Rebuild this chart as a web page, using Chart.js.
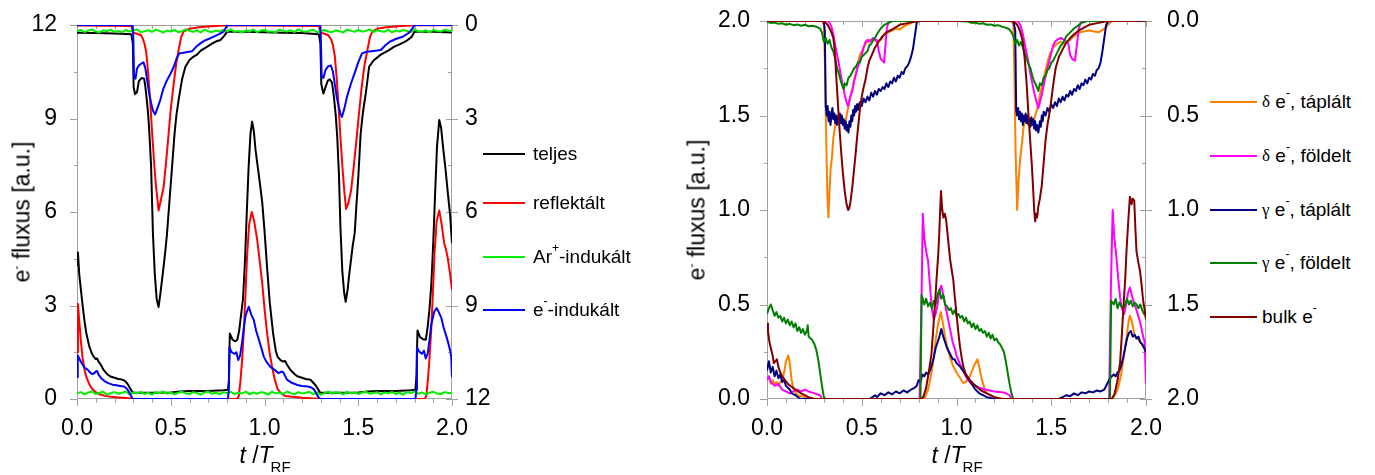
<!DOCTYPE html>
<html>
<head>
<meta charset="utf-8">
<script src="https://cdn.jsdelivr.net/npm/chart.js@4.4.1/dist/chart.umd.min.js"></script>
<style>
  body { margin: 0; background: #fff; width: 1375px; height: 475px; position: relative; overflow: hidden;
         font-family: "Liberation Sans", Arial, sans-serif; color: #000; }
  canvas { position: absolute; top: 0; }
  .ytitle { position: absolute; font-size: 23px; white-space: nowrap; transform: translate(-50%, -50%) rotate(-90deg); }
  .xtitle { position: absolute; font-size: 23px; line-height: 23px; white-space: nowrap; transform: translateX(-50%); }
  .xtitle .sub { font-size: 15px; font-style: normal; position: relative; top: 9px; margin-left: -2px; }
  sup { font-size: 12px; vertical-align: 0; position: relative; top: -9px; }
  .item { position: absolute; height: 22px; display: flex; align-items: center; font-size: 19px; white-space: nowrap; }
  .ln { display: inline-block; height: 2px; }
  .gr { font-family: "Liberation Serif", "DejaVu Serif", serif; font-size: 17px; }
</style>
</head>
<body>
<canvas id="c1" width="490" height="475" style="left:0"></canvas>
<canvas id="c2" width="520" height="475" style="left:690px"></canvas>

<div class="ytitle" style="left:22px;top:212px">e<sup>-</sup> fluxus [a.u.]</div>
<div class="ytitle" style="left:697px;top:210px">e<sup>-</sup> fluxus [a.u.]</div>
<div class="xtitle" style="left:265px;top:444px"><i>t</i> /<i>T</i><span class="sub">RF</span></div>
<div class="xtitle" style="left:957px;top:444px"><i>t</i> /<i>T</i><span class="sub">RF</span></div>

<div class="item" style="left:483px;top:143px"><span class="ln" style="width:42px;background:#000;margin-right:8px"></span>teljes</div>
<div class="item" style="left:483px;top:192px"><span class="ln" style="width:42px;background:#ff0000;margin-right:8px"></span>reflektált</div>
<div class="item" style="left:483px;top:246px"><span class="ln" style="width:42px;background:#00ee00;margin-right:8px"></span>Ar<sup>+</sup>-indukált</div>
<div class="item" style="left:483px;top:299px"><span class="ln" style="width:42px;background:#0000ff;margin-right:8px"></span>e<sup>-</sup>-indukált</div>

<div class="item" style="left:1210px;top:91px"><span class="ln" style="width:47px;background:#ff8000;margin-right:5px"></span><span class="gr">δ</span>&nbsp;e<sup>-</sup>, táplált</div>
<div class="item" style="left:1210px;top:145px"><span class="ln" style="width:47px;background:#ff00ff;margin-right:5px"></span><span class="gr">δ</span>&nbsp;e<sup>-</sup>, földelt</div>
<div class="item" style="left:1210px;top:199px"><span class="ln" style="width:47px;background:#000080;margin-right:5px"></span><span class="gr">γ</span>&nbsp;e<sup>-</sup>, táplált</div>
<div class="item" style="left:1210px;top:252px"><span class="ln" style="width:47px;background:#008000;margin-right:5px"></span><span class="gr">γ</span>&nbsp;e<sup>-</sup>, földelt</div>
<div class="item" style="left:1210px;top:306px"><span class="ln" style="width:47px;background:#800000;margin-right:5px"></span>bulk e<sup>-</sup></div>

<script>
// ---- left panel: [t/T_RF, flux] ----
// bottom curves (left axis)
const teljesAlso = [[0,4.3],[0.005,4.7],[0.012,4.0],[0.02,3.55],[0.03,3.0],[0.04,2.5],[0.05,2.1],[0.065,1.7],[0.08,1.45],[0.09,1.35],[0.1,1.28],[0.107,1.3],[0.115,1.2],[0.125,1.12],[0.14,0.95],[0.16,0.8],[0.178,0.72],[0.2,0.68],[0.22,0.64],[0.235,0.63],[0.25,0.6],[0.26,0.56],[0.27,0.48],[0.28,0.38],[0.29,0.27],[0.3,0.2],[0.4,0.2],[0.5,0.21],[0.55,0.24],[0.6,0.26],[0.7,0.26],[0.78,0.28],[0.805,0.3],[0.81,0.6],[0.815,2.1],[0.83,1.9],[0.845,1.85],[0.855,1.9],[0.865,2.2],[0.875,2.7],[0.885,3.2],[0.895,4.3],[0.905,5.9],[0.915,7.4],[0.925,8.5],[0.934,8.9],[0.943,8.6],[0.952,8.0],[0.965,7.4],[0.978,6.8],[0.988,6.3],[1.0,5.4],[1.014,4.2],[1.028,3.1],[1.046,2.1],[1.06,1.55],[1.07,1.35],[1.085,1.25],[1.1,1.2],[1.11,1.22],[1.12,1.1],[1.14,0.92],[1.16,0.8],[1.175,0.73],[1.2,0.68],[1.22,0.64],[1.245,0.62],[1.26,0.52],[1.275,0.42],[1.285,0.32],[1.295,0.22],[1.3,0.2],[1.4,0.2],[1.5,0.21],[1.55,0.24],[1.6,0.26],[1.7,0.26],[1.78,0.28],[1.805,0.3],[1.81,0.7],[1.816,2.2],[1.83,1.98],[1.845,1.92],[1.86,1.9],[1.87,2.3],[1.88,2.9],[1.89,3.7],[1.9,5.0],[1.91,6.6],[1.92,8.1],[1.932,8.95],[1.942,8.7],[1.952,8.1],[1.965,7.4],[1.978,6.6],[1.99,5.9],[2.0,5.0]];
const reflAlso = [[0,1.5],[0.005,3.05],[0.012,2.5],[0.02,1.9],[0.03,1.3],[0.04,0.95],[0.05,0.7],[0.065,0.48],[0.08,0.33],[0.1,0.22],[0.12,0.15],[0.15,0.1],[0.18,0.07],[0.22,0.05],[0.26,0.03],[0.3,0.01],[0.35,0],[0.855,0],[0.863,0.1],[0.872,0.6],[0.88,1.2],[0.889,2.1],[0.898,3.3],[0.907,4.6],[0.918,5.6],[0.932,6.0],[0.945,5.7],[0.96,5.15],[0.975,4.4],[0.988,3.7],[1.0,2.9],[1.014,2.1],[1.027,1.5],[1.04,1.04],[1.055,0.62],[1.07,0.32],[1.09,0.17],[1.11,0.1],[1.15,0.07],[1.2,0.04],[1.26,0.02],[1.3,0],[1.855,0],[1.863,0.1],[1.872,0.65],[1.88,1.3],[1.889,2.2],[1.898,3.4],[1.907,4.7],[1.918,5.7],[1.932,6.05],[1.945,5.6],[1.958,5.0],[1.968,4.8],[1.978,4.5],[1.99,4.0],[2.0,3.5]];
const eIndAlso = [[0,0.7],[0.004,1.4],[0.012,1.3],[0.02,1.2],[0.03,1.1],[0.04,1.0],[0.05,0.97],[0.06,0.92],[0.07,0.85],[0.08,0.8],[0.09,0.82],[0.1,0.88],[0.107,0.9],[0.115,0.78],[0.13,0.66],[0.15,0.56],[0.17,0.5],[0.19,0.46],[0.21,0.44],[0.23,0.42],[0.25,0.4],[0.26,0.36],[0.27,0.3],[0.28,0.2],[0.29,0.08],[0.295,0.01],[0.3,0],[0.805,0],[0.81,0.3],[0.813,1.65],[0.825,1.5],[0.84,1.45],[0.85,1.5],[0.86,1.25],[0.87,1.4],[0.88,1.8],[0.89,2.3],[0.9,2.7],[0.916,2.96],[0.93,2.7],[0.943,2.53],[0.955,2.2],[0.97,1.9],[0.985,1.6],[0.996,1.36],[1.01,1.2],[1.03,1.04],[1.05,0.95],[1.075,0.83],[1.09,0.88],[1.1,0.86],[1.12,0.62],[1.145,0.52],[1.175,0.45],[1.2,0.42],[1.23,0.4],[1.25,0.37],[1.265,0.3],[1.278,0.16],[1.29,0.03],[1.3,0],[1.805,0],[1.81,0.3],[1.813,1.65],[1.825,1.52],[1.84,1.45],[1.85,1.55],[1.86,1.3],[1.87,1.45],[1.88,1.9],[1.89,2.4],[1.905,2.8],[1.918,2.92],[1.93,2.78],[1.943,2.6],[1.955,2.3],[1.968,2.05],[1.98,1.8],[1.99,1.55],[1.996,1.35],[2.0,0.7]];
// Ar+ induced flux, sampled every 0.02 T_RF
const tAr = Array.from({length: 101}, (_, i) => i * 0.02);
const arAlso = [0.18,0.22,0.15,0.21,0.24,0.16,0.2,0.23,0.14,0.19,0.22,0.17,0.2,0.24,0.15,0.21,0.18,0.23,0.16,0.2,0.14,0.22,0.19,0.24,0.17,0.21,0.15,0.2,0.23,0.18,0.16,0.22,0.19,0.14,0.21,0.24,0.17,0.2,0.15,0.22,0.19,0.23,0.16,0.2,0.18,0.24,0.15,0.21,0.17,0.22,0.2,0.14,0.23,0.18,0.21,0.16,0.24,0.19,0.15,0.22,0.18,0.2,0.23,0.16,0.21,0.14,0.19,0.24,0.17,0.22,0.2,0.15,0.23,0.18,0.21,0.16,0.2,0.24,0.17,0.19,0.22,0.15,0.21,0.18,0.23,0.16,0.2,0.14,0.22,0.19,0.24,0.17,0.21,0.15,0.2,0.23,0.18,0.16,0.22,0.19,0.2];
// top curves (right axis, reversed)
const teljesFelso = [[0,0.25],[0.1,0.26],[0.2,0.27],[0.29,0.3],[0.298,0.6],[0.302,2.0],[0.31,2.22],[0.32,2.15],[0.33,1.8],[0.345,1.7],[0.358,1.72],[0.365,2.0],[0.373,2.45],[0.38,2.9],[0.386,3.47],[0.395,4.5],[0.405,6.7],[0.415,8.0],[0.425,8.8],[0.435,9.05],[0.445,8.6],[0.455,8.1],[0.464,7.64],[0.472,7.2],[0.48,6.7],[0.49,5.9],[0.5,5.1],[0.507,4.55],[0.52,3.5],[0.53,2.9],[0.542,2.4],[0.56,1.75],[0.578,1.34],[0.6,1.12],[0.62,1.02],[0.64,0.95],[0.66,0.82],[0.693,0.7],[0.72,0.6],[0.745,0.52],[0.765,0.48],[0.785,0.35],[0.8,0.22],[0.9,0.22],[1.0,0.23],[1.1,0.25],[1.2,0.26],[1.29,0.3],[1.298,0.6],[1.303,1.9],[1.314,2.2],[1.325,2.0],[1.338,1.78],[1.348,1.74],[1.36,1.85],[1.37,2.3],[1.38,2.9],[1.388,3.6],[1.397,4.8],[1.405,6.5],[1.415,7.9],[1.425,8.6],[1.433,8.88],[1.443,8.5],[1.452,8.0],[1.46,7.6],[1.47,7.1],[1.481,6.68],[1.49,5.8],[1.5,4.9],[1.513,3.47],[1.525,2.8],[1.54,2.2],[1.558,1.34],[1.58,1.15],[1.62,0.95],[1.66,0.82],[1.69,0.7],[1.72,0.62],[1.76,0.5],[1.785,0.38],[1.8,0.22],[1.9,0.22],[2.0,0.24]];
const reflFelso = [[0,0.02],[0.29,0.03],[0.3,0.25],[0.32,0.28],[0.34,0.32],[0.35,0.42],[0.36,0.6],[0.37,0.9],[0.38,1.6],[0.39,2.4],[0.4,3.4],[0.41,4.3],[0.42,5.1],[0.435,5.95],[0.448,5.6],[0.462,5.2],[0.475,4.4],[0.489,3.47],[0.5,2.7],[0.516,1.87],[0.53,1.2],[0.542,0.8],[0.555,0.4],[0.568,0.21],[0.6,0.12],[0.65,0.07],[0.73,0.03],[0.8,0.01],[1.29,0.03],[1.3,0.25],[1.32,0.28],[1.34,0.33],[1.355,0.45],[1.365,0.65],[1.375,1.0],[1.385,1.7],[1.395,2.6],[1.405,3.6],[1.415,4.5],[1.425,5.3],[1.435,5.9],[1.448,5.7],[1.462,5.3],[1.475,4.6],[1.49,3.7],[1.503,2.9],[1.518,2.0],[1.533,1.3],[1.549,0.8],[1.562,0.4],[1.575,0.21],[1.6,0.12],[1.65,0.07],[1.73,0.03],[1.8,0.01],[2.0,0.01]];
const eIndFelso = [[0,0],[0.295,0],[0.3,0.3],[0.304,1.66],[0.312,1.72],[0.32,1.4],[0.33,1.3],[0.34,1.25],[0.355,1.2],[0.365,1.4],[0.375,1.8],[0.385,2.2],[0.395,2.5],[0.405,2.75],[0.417,2.87],[0.43,2.65],[0.444,2.41],[0.46,2.05],[0.48,1.77],[0.5,1.55],[0.516,1.34],[0.53,1.1],[0.545,0.91],[0.56,0.9],[0.575,0.88],[0.595,0.86],[0.614,0.84],[0.635,0.7],[0.658,0.59],[0.68,0.5],[0.705,0.44],[0.73,0.37],[0.755,0.3],[0.783,0.21],[0.795,0.08],[0.8,0],[1.295,0],[1.3,0.3],[1.305,1.66],[1.314,1.7],[1.325,1.45],[1.34,1.32],[1.354,1.3],[1.365,1.5],[1.375,1.9],[1.385,2.3],[1.395,2.6],[1.405,2.85],[1.413,2.95],[1.425,2.7],[1.44,2.3],[1.46,1.9],[1.48,1.55],[1.5,1.2],[1.52,0.91],[1.545,0.86],[1.57,0.84],[1.6,0.82],[1.62,0.8],[1.645,0.65],[1.67,0.53],[1.7,0.45],[1.74,0.37],[1.77,0.25],[1.79,0.1],[1.8,0],[2.0,0]];
const arFelso = [0.2,0.16,0.23,0.18,0.14,0.21,0.24,0.17,0.2,0.15,0.22,0.19,0.24,0.16,0.21,0.18,0.14,0.23,0.2,0.17,0.22,0.15,0.19,0.24,0.18,0.21,0.16,0.23,0.2,0.14,0.19,0.22,0.17,0.24,0.15,0.2,0.23,0.18,0.21,0.16,0.2,0.14,0.22,0.19,0.24,0.17,0.21,0.15,0.23,0.18,0.16,0.22,0.2,0.24,0.15,0.19,0.21,0.17,0.23,0.14,0.2,0.22,0.18,0.15,0.24,0.19,0.16,0.21,0.23,0.17,0.2,0.24,0.15,0.18,0.22,0.16,0.21,0.19,0.14,0.23,0.17,0.2,0.22,0.15,0.24,0.18,0.21,0.16,0.19,0.23,0.14,0.2,0.22,0.17,0.24,0.16,0.19,0.21,0.15,0.18,0.2];

// ---- right panel ----
const dTapAlso = [[0,0.1],[0.01,0.12],[0.02,0.08],[0.03,0.1],[0.04,0.08],[0.05,0.09],[0.06,0.07],[0.07,0.09],[0.08,0.1],[0.09,0.14],[0.1,0.2],[0.112,0.23],[0.12,0.19],[0.13,0.1],[0.14,0.05],[0.16,0.02],[0.2,0.01],[0.25,0],[0.82,0],[0.834,0.01],[0.85,0.05],[0.86,0.1],[0.87,0.15],[0.88,0.22],[0.89,0.31],[0.9,0.38],[0.91,0.43],[0.917,0.46],[0.925,0.42],[0.935,0.36],[0.94,0.33],[0.95,0.28],[0.966,0.22],[0.98,0.18],[1.0,0.14],[1.02,0.11],[1.036,0.085],[1.05,0.09],[1.07,0.12],[1.09,0.17],[1.11,0.21],[1.12,0.17],[1.134,0.1],[1.15,0.05],[1.16,0.03],[1.2,0.01],[1.25,0],[1.82,0],[1.83,0.01],[1.85,0.05],[1.86,0.09],[1.872,0.15],[1.885,0.24],[1.898,0.33],[1.908,0.41],[1.915,0.44],[1.925,0.41],[1.942,0.33],[1.955,0.32],[1.97,0.3],[1.985,0.28],[2.0,0.26]];
const dFolAlso = [[0,0.1],[0.01,0.12],[0.02,0.09],[0.03,0.08],[0.04,0.07],[0.06,0.08],[0.08,0.05],[0.1,0.04],[0.12,0.03],[0.14,0.04],[0.16,0.05],[0.18,0.04],[0.2,0.05],[0.22,0.04],[0.25,0.03],[0.28,0.02],[0.29,0],[0.805,0],[0.815,0.5],[0.822,0.98],[0.83,0.85],[0.84,0.78],[0.85,0.73],[0.86,0.6],[0.87,0.48],[0.88,0.42],[0.89,0.45],[0.9,0.5],[0.91,0.57],[0.92,0.6],[0.93,0.55],[0.94,0.5],[0.95,0.45],[0.96,0.4],[0.97,0.35],[0.98,0.3],[0.99,0.27],[1.0,0.23],[1.02,0.18],[1.04,0.14],[1.06,0.1],[1.08,0.08],[1.1,0.07],[1.12,0.06],[1.15,0.05],[1.2,0.04],[1.25,0.035],[1.28,0.02],[1.29,0],[1.805,0],[1.815,0.6],[1.824,1.0],[1.833,0.85],[1.842,0.77],[1.854,0.63],[1.863,0.54],[1.872,0.48],[1.885,0.45],[1.895,0.5],[1.905,0.56],[1.915,0.59],[1.93,0.53],[1.95,0.47],[1.965,0.42],[1.975,0.38],[1.985,0.33],[1.993,0.3],[2.0,0.08]];
const gTapAlso = [[0,0.15],[0.01,0.2],[0.02,0.14],[0.03,0.17],[0.04,0.12],[0.05,0.15],[0.06,0.11],[0.07,0.13],[0.08,0.09],[0.09,0.1],[0.1,0.07],[0.11,0.06],[0.12,0.05],[0.13,0.03],[0.15,0.02],[0.17,0.005],[0.18,0],[0.54,0],[0.55,0.005],[0.57,0.02],[0.58,0.01],[0.6,0.03],[0.62,0.02],[0.64,0.035],[0.66,0.025],[0.68,0.04],[0.7,0.03],[0.72,0.045],[0.74,0.035],[0.76,0.05],[0.78,0.06],[0.79,0.07],[0.8,0.1],[0.81,0.09],[0.82,0.13],[0.83,0.12],[0.84,0.14],[0.85,0.13],[0.86,0.15],[0.87,0.18],[0.88,0.22],[0.89,0.27],[0.9,0.3],[0.91,0.33],[0.92,0.37],[0.93,0.33],[0.94,0.3],[0.95,0.27],[0.96,0.25],[0.97,0.23],[0.98,0.21],[0.99,0.21],[1.0,0.19],[1.02,0.17],[1.04,0.14],[1.06,0.11],[1.08,0.08],[1.1,0.05],[1.12,0.03],[1.14,0.02],[1.16,0.01],[1.2,0],[1.54,0],[1.56,0.01],[1.58,0.02],[1.6,0.015],[1.62,0.03],[1.64,0.02],[1.66,0.035],[1.68,0.03],[1.7,0.04],[1.72,0.035],[1.74,0.045],[1.76,0.04],[1.78,0.05],[1.79,0.07],[1.8,0.09],[1.81,0.11],[1.82,0.12],[1.83,0.13],[1.84,0.12],[1.85,0.14],[1.86,0.15],[1.87,0.18],[1.88,0.22],[1.89,0.27],[1.9,0.32],[1.91,0.35],[1.92,0.36],[1.93,0.33],[1.94,0.34],[1.95,0.32],[1.96,0.33],[1.97,0.3],[1.98,0.29],[1.99,0.27],[2.0,0.25]];
const gFolAlso = [[0,0.45],[0.01,0.48],[0.02,0.5],[0.03,0.47],[0.04,0.44],[0.05,0.46],[0.06,0.43],[0.07,0.44],[0.08,0.41],[0.09,0.43],[0.1,0.4],[0.11,0.42],[0.12,0.39],[0.13,0.41],[0.14,0.38],[0.15,0.4],[0.16,0.36],[0.17,0.38],[0.18,0.35],[0.19,0.37],[0.2,0.34],[0.21,0.36],[0.215,0.39],[0.22,0.33],[0.23,0.32],[0.24,0.31],[0.25,0.29],[0.26,0.26],[0.27,0.21],[0.28,0.14],[0.29,0.07],[0.3,0.01],[0.31,0],[0.81,0],[0.816,0.55],[0.83,0.5],[0.84,0.53],[0.85,0.49],[0.86,0.51],[0.87,0.48],[0.88,0.52],[0.89,0.5],[0.9,0.55],[0.91,0.58],[0.92,0.53],[0.93,0.55],[0.94,0.5],[0.95,0.49],[0.96,0.47],[0.97,0.48],[0.98,0.45],[0.99,0.47],[1.0,0.44],[1.01,0.45],[1.02,0.43],[1.03,0.44],[1.04,0.41],[1.05,0.43],[1.06,0.4],[1.07,0.41],[1.08,0.38],[1.09,0.4],[1.1,0.37],[1.11,0.39],[1.12,0.36],[1.13,0.37],[1.14,0.35],[1.15,0.36],[1.16,0.33],[1.17,0.35],[1.18,0.32],[1.19,0.34],[1.2,0.31],[1.21,0.32],[1.22,0.3],[1.23,0.29],[1.24,0.27],[1.25,0.25],[1.26,0.2],[1.27,0.14],[1.28,0.08],[1.29,0.03],[1.3,0],[1.81,0],[1.816,0.52],[1.83,0.5],[1.84,0.53],[1.85,0.48],[1.86,0.51],[1.87,0.49],[1.88,0.48],[1.89,0.5],[1.9,0.53],[1.91,0.5],[1.92,0.52],[1.93,0.49],[1.94,0.51],[1.95,0.5],[1.96,0.48],[1.97,0.5],[1.98,0.47],[1.99,0.45],[2.0,0.44]];
const bulkAlso = [[0,0.4],[0.005,0.36],[0.013,0.3],[0.02,0.27],[0.03,0.23],[0.036,0.19],[0.045,0.2],[0.052,0.21],[0.06,0.17],[0.07,0.14],[0.08,0.12],[0.095,0.1],[0.11,0.08],[0.13,0.065],[0.15,0.05],[0.18,0.03],[0.22,0.01],[0.25,0],[0.81,0],[0.825,0.01],[0.84,0.06],[0.855,0.15],[0.868,0.24],[0.878,0.38],[0.887,0.51],[0.895,0.64],[0.904,0.77],[0.91,0.9],[0.918,1.1],[0.925,1.0],[0.931,0.96],[0.938,0.98],[0.945,0.95],[0.955,0.85],[0.966,0.74],[0.975,0.68],[0.983,0.63],[0.99,0.55],[1.0,0.45],[1.01,0.35],[1.018,0.28],[1.027,0.22],[1.036,0.17],[1.05,0.13],[1.071,0.1],[1.09,0.08],[1.107,0.065],[1.13,0.045],[1.16,0.03],[1.2,0.01],[1.24,0],[1.82,0],[1.835,0.03],[1.85,0.1],[1.863,0.19],[1.872,0.33],[1.88,0.47],[1.89,0.63],[1.898,0.8],[1.907,0.95],[1.915,1.07],[1.924,1.03],[1.93,1.06],[1.938,1.05],[1.944,0.9],[1.95,0.78],[1.96,0.72],[1.968,0.68],[1.977,0.6],[1.985,0.52],[1.993,0.47],[2.0,0.42]];

const dTapFelso = [[0,0],[0.29,0],[0.3,0.02],[0.305,0.2],[0.312,0.6],[0.318,0.9],[0.324,1.04],[0.33,0.9],[0.336,0.78],[0.343,0.72],[0.35,0.62],[0.36,0.55],[0.37,0.5],[0.38,0.53],[0.39,0.5],[0.4,0.52],[0.41,0.55],[0.42,0.5],[0.43,0.45],[0.44,0.4],[0.45,0.36],[0.46,0.31],[0.47,0.27],[0.48,0.22],[0.49,0.18],[0.5,0.16],[0.51,0.14],[0.52,0.12],[0.54,0.1],[0.56,0.1],[0.58,0.11],[0.6,0.1],[0.62,0.07],[0.64,0.06],[0.66,0.05],[0.68,0.04],[0.7,0.045],[0.72,0.03],[0.74,0.02],[0.76,0.01],[0.78,0],[1.29,0],[1.3,0.02],[1.305,0.25],[1.312,0.7],[1.32,1.0],[1.327,0.85],[1.336,0.73],[1.345,0.65],[1.354,0.56],[1.365,0.52],[1.375,0.5],[1.385,0.53],[1.395,0.51],[1.405,0.54],[1.415,0.5],[1.425,0.47],[1.435,0.42],[1.445,0.37],[1.455,0.32],[1.465,0.28],[1.475,0.24],[1.485,0.2],[1.495,0.17],[1.51,0.14],[1.53,0.12],[1.55,0.11],[1.57,0.12],[1.6,0.1],[1.62,0.08],[1.65,0.06],[1.7,0.05],[1.75,0.06],[1.78,0.04],[1.8,0.02],[1.82,0],[2.0,0]];
const dFolFelso = [[0,0],[0.32,0],[0.33,0.01],[0.34,0.03],[0.35,0.07],[0.36,0.13],[0.37,0.18],[0.38,0.23],[0.39,0.29],[0.4,0.34],[0.41,0.39],[0.42,0.43],[0.428,0.45],[0.435,0.42],[0.44,0.4],[0.45,0.37],[0.46,0.32],[0.47,0.28],[0.48,0.24],[0.49,0.21],[0.5,0.18],[0.51,0.14],[0.52,0.11],[0.53,0.1],[0.54,0.11],[0.55,0.1],[0.56,0.09],[0.57,0.1],[0.58,0.1],[0.59,0.16],[0.6,0.2],[0.61,0.21],[0.618,0.22],[0.625,0.13],[0.632,0.04],[0.64,0.01],[0.66,0],[1.32,0],[1.33,0.01],[1.34,0.03],[1.35,0.07],[1.36,0.12],[1.37,0.17],[1.38,0.22],[1.39,0.28],[1.4,0.33],[1.41,0.38],[1.42,0.42],[1.432,0.46],[1.44,0.43],[1.45,0.39],[1.46,0.34],[1.47,0.29],[1.48,0.25],[1.49,0.21],[1.5,0.17],[1.51,0.13],[1.52,0.11],[1.53,0.1],[1.55,0.09],[1.57,0.1],[1.59,0.12],[1.6,0.18],[1.61,0.2],[1.625,0.21],[1.635,0.13],[1.645,0.04],[1.655,0.01],[1.67,0],[2.0,0]];
const gTapFelso = [[0,0],[0.3,0],[0.305,0.05],[0.31,0.45],[0.315,0.5],[0.32,0.45],[0.325,0.53],[0.33,0.48],[0.335,0.55],[0.34,0.5],[0.345,0.46],[0.35,0.52],[0.355,0.49],[0.36,0.54],[0.365,0.5],[0.37,0.55],[0.375,0.51],[0.38,0.53],[0.385,0.49],[0.39,0.54],[0.395,0.5],[0.4,0.55],[0.405,0.52],[0.41,0.57],[0.415,0.53],[0.42,0.58],[0.425,0.55],[0.43,0.59],[0.435,0.53],[0.44,0.56],[0.445,0.5],[0.45,0.53],[0.455,0.47],[0.46,0.5],[0.465,0.45],[0.47,0.48],[0.475,0.44],[0.48,0.47],[0.49,0.43],[0.5,0.45],[0.51,0.41],[0.52,0.43],[0.53,0.4],[0.54,0.42],[0.55,0.38],[0.56,0.4],[0.57,0.37],[0.58,0.39],[0.59,0.36],[0.6,0.37],[0.61,0.35],[0.62,0.36],[0.63,0.33],[0.64,0.35],[0.65,0.32],[0.66,0.33],[0.67,0.3],[0.68,0.32],[0.69,0.29],[0.7,0.3],[0.71,0.27],[0.72,0.28],[0.73,0.25],[0.74,0.24],[0.75,0.22],[0.76,0.19],[0.77,0.15],[0.78,0.08],[0.79,0.01],[0.8,0],[1.3,0],[1.31,0.05],[1.315,0.47],[1.32,0.5],[1.325,0.46],[1.33,0.52],[1.335,0.48],[1.34,0.53],[1.345,0.49],[1.35,0.55],[1.355,0.5],[1.36,0.53],[1.365,0.49],[1.37,0.54],[1.375,0.5],[1.38,0.55],[1.385,0.52],[1.39,0.56],[1.395,0.51],[1.4,0.55],[1.405,0.52],[1.41,0.57],[1.415,0.53],[1.42,0.58],[1.425,0.55],[1.432,0.59],[1.44,0.53],[1.445,0.56],[1.45,0.5],[1.455,0.53],[1.46,0.48],[1.47,0.5],[1.48,0.46],[1.49,0.48],[1.5,0.44],[1.51,0.46],[1.52,0.43],[1.53,0.45],[1.54,0.41],[1.55,0.43],[1.56,0.4],[1.57,0.42],[1.58,0.39],[1.59,0.4],[1.6,0.37],[1.61,0.39],[1.62,0.36],[1.63,0.37],[1.64,0.34],[1.65,0.36],[1.66,0.33],[1.67,0.34],[1.68,0.31],[1.69,0.33],[1.7,0.3],[1.71,0.31],[1.72,0.28],[1.73,0.29],[1.74,0.26],[1.75,0.25],[1.76,0.22],[1.77,0.16],[1.78,0.09],[1.79,0.02],[1.8,0],[2.0,0]];
const gFolFelso = [[0,0.005],[0.02,0.01],[0.04,0.008],[0.06,0.015],[0.08,0.012],[0.1,0.02],[0.12,0.015],[0.14,0.022],[0.16,0.018],[0.18,0.025],[0.2,0.02],[0.22,0.028],[0.24,0.025],[0.26,0.03],[0.28,0.04],[0.29,0.06],[0.3,0.11],[0.31,0.09],[0.32,0.12],[0.33,0.1],[0.34,0.14],[0.35,0.16],[0.36,0.2],[0.37,0.25],[0.38,0.28],[0.39,0.32],[0.4,0.35],[0.405,0.36],[0.41,0.33],[0.42,0.34],[0.43,0.3],[0.44,0.29],[0.45,0.27],[0.46,0.25],[0.47,0.24],[0.48,0.22],[0.49,0.22],[0.5,0.19],[0.51,0.18],[0.52,0.17],[0.53,0.16],[0.54,0.13],[0.55,0.12],[0.56,0.1],[0.57,0.09],[0.58,0.07],[0.6,0.04],[0.62,0.02],[0.64,0.01],[0.66,0],[1.0,0],[1.06,0.003],[1.08,0.01],[1.1,0.008],[1.12,0.015],[1.14,0.012],[1.16,0.02],[1.18,0.018],[1.2,0.025],[1.22,0.022],[1.24,0.03],[1.26,0.035],[1.28,0.045],[1.29,0.06],[1.3,0.08],[1.31,0.12],[1.32,0.1],[1.33,0.13],[1.34,0.11],[1.35,0.14],[1.36,0.17],[1.37,0.2],[1.38,0.23],[1.39,0.25],[1.4,0.29],[1.41,0.32],[1.42,0.34],[1.432,0.37],[1.44,0.33],[1.45,0.34],[1.46,0.3],[1.47,0.29],[1.48,0.26],[1.49,0.25],[1.5,0.22],[1.51,0.21],[1.52,0.19],[1.53,0.17],[1.54,0.15],[1.55,0.13],[1.56,0.12],[1.58,0.08],[1.6,0.06],[1.62,0.04],[1.64,0.025],[1.66,0.01],[1.69,0],[2.0,0]];
const bulkFelso = [[0,0],[0.3,0],[0.31,0.01],[0.32,0.02],[0.33,0.04],[0.34,0.06],[0.35,0.09],[0.355,0.13],[0.36,0.2],[0.366,0.3],[0.375,0.45],[0.384,0.59],[0.392,0.7],[0.4,0.8],[0.41,0.9],[0.42,0.97],[0.428,1.0],[0.434,0.99],[0.44,0.96],[0.45,0.88],[0.458,0.8],[0.466,0.72],[0.475,0.62],[0.484,0.53],[0.492,0.45],[0.5,0.4],[0.51,0.35],[0.52,0.31],[0.53,0.25],[0.54,0.21],[0.553,0.18],[0.57,0.14],[0.588,0.11],[0.61,0.08],[0.63,0.06],[0.66,0.045],[0.7,0.02],[0.75,0.01],[0.8,0],[1.3,0],[1.31,0.01],[1.32,0.02],[1.33,0.04],[1.34,0.07],[1.35,0.11],[1.36,0.2],[1.37,0.33],[1.38,0.5],[1.39,0.65],[1.398,0.77],[1.405,0.9],[1.41,1.0],[1.415,1.06],[1.42,1.02],[1.425,1.04],[1.432,0.98],[1.44,0.94],[1.45,0.87],[1.46,0.75],[1.47,0.63],[1.48,0.55],[1.49,0.49],[1.5,0.42],[1.51,0.34],[1.523,0.25],[1.54,0.19],[1.56,0.15],[1.576,0.12],[1.6,0.09],[1.62,0.07],[1.646,0.05],[1.7,0.02],[1.75,0.01],[1.8,0],[2.0,0]];

Chart.defaults.font.family = "'Liberation Sans', Arial, sans-serif";
Chart.defaults.color = '#000';

const pts = arr => arr.map(p => ({x: p[0], y: p[1]}));
const onGrid = vals => vals.map((v, i) => ({x: tAr[i], y: v}));

function line(data, color, axis, order) {
  return {data, borderColor: color, borderWidth: 2, pointRadius: 0, fill: false,
          tension: 0, yAxisID: axis, order: order, borderJoinStyle: 'round'};
}

// gray frame with major/minor ticks, drawn under the curves
const frame = {
  id: 'frame',
  beforeDatasetsDraw(chart, args, o) {
    const {ctx, chartArea: a} = chart;
    const xs = chart.scales.x, ys = chart.scales.y;
    ctx.save();
    ctx.strokeStyle = '#a0a0a0';
    ctx.lineWidth = 1;
    ctx.beginPath();
    ctx.rect(a.left + 0.5, a.top + 0.5, a.width - 1, a.height - 1);
    for (let i = 0; i <= 20; i++) {
      const px = Math.round(xs.getPixelForValue(i / 10)) + 0.5;
      const major = i % 5 === 0;
      ctx.moveTo(px, a.bottom); ctx.lineTo(px, a.bottom + (major ? 7 : 4));
      ctx.moveTo(px, a.top); ctx.lineTo(px, a.top + (major ? 6 : 4));
    }
    for (let i = 0; i <= o.n; i++) {
      const py = Math.round(ys.getPixelForValue(ys.min + i * o.minor)) + 0.5;
      const major = i % 2 === 0;
      ctx.moveTo(a.left, py); ctx.lineTo(a.left - (major ? 7 : 3), py);
      ctx.moveTo(a.right - (major ? 6 : 4), py); ctx.lineTo(a.right + (major ? 6 : 0), py);
    }
    ctx.stroke();
    ctx.restore();
  }
};

// fixed axis sizes; vertical label overhang is not allowed to shrink the plot
function fixY(w) {
  return s => { s.width = w; s.paddingTop = 0; s.paddingBottom = 0; };
}

function axes(max, step, fmt, pad, wl, wr) {
  const tickFont = {size: 23};
  return {
    x: {type: 'linear', min: 0, max: 2,
        ticks: {stepSize: 0.5, padding: 8, maxRotation: 0, font: tickFont, callback: v => v.toFixed(1)},
        grid: {display: false}, border: {display: false},
        afterFit: s => { s.height = 76; }},
    y: {min: 0, max: max,
        ticks: {stepSize: step, padding: pad[0], font: tickFont, callback: fmt},
        grid: {display: false}, border: {display: false},
        afterFit: fixY(wl)},
    y2: {position: 'right', reverse: true, min: 0, max: max,
         ticks: {stepSize: step, padding: pad[1], font: tickFont, callback: fmt},
         grid: {display: false}, border: {display: false},
         afterFit: fixY(wr)}
  };
}

const common = {
  responsive: false, animation: false, devicePixelRatio: 1,
  plugins: {legend: {display: false}, tooltip: {enabled: false}}
};

new Chart(document.getElementById('c1'), {
  type: 'line',
  data: {datasets: [
    line(pts(teljesAlso), '#000000', 'y', 4),
    line(pts(reflAlso), '#ff0000', 'y', 3),
    line(onGrid(arAlso), '#00ee00', 'y', 2),
    line(pts(eIndAlso), '#0000ff', 'y', 1),
    line(pts(teljesFelso), '#000000', 'y2', 4),
    line(pts(reflFelso), '#ff0000', 'y2', 3),
    line(onGrid(arFelso), '#00ee00', 'y2', 2),
    line(pts(eIndFelso), '#0000ff', 'y2', 1)
  ]},
  options: {...common,
    layout: {padding: {top: 25}},
    scales: axes(12, 3, v => String(v), [12, 5], 77, 38),
    plugins: {...common.plugins, frame: {minor: 1.5, n: 8}}
  },
  plugins: [frame]
});

new Chart(document.getElementById('c2'), {
  type: 'line',
  data: {datasets: [
    line(pts(dTapAlso), '#ff8000', 'y', 5),
    line(pts(dFolAlso), '#ff00ff', 'y', 4),
    line(pts(gTapAlso), '#000080', 'y', 3),
    line(pts(gFolAlso), '#008000', 'y', 2),
    line(pts(bulkAlso), '#800000', 'y', 1),
    line(pts(dTapFelso), '#ff8000', 'y2', 5),
    line(pts(dFolFelso), '#ff00ff', 'y2', 4),
    line(pts(gTapFelso), '#000080', 'y2', 3),
    line(pts(gFolFelso), '#008000', 'y2', 2),
    line(pts(bulkFelso), '#800000', 'y2', 1)
  ]},
  options: {...common,
    layout: {padding: {top: 21}},
    scales: axes(2, 0.5, v => v.toFixed(1), [9, 13], 77, 64),
    plugins: {...common.plugins, frame: {minor: 0.25, n: 8}}
  },
  plugins: [frame]
});
</script>
</body>
</html>
